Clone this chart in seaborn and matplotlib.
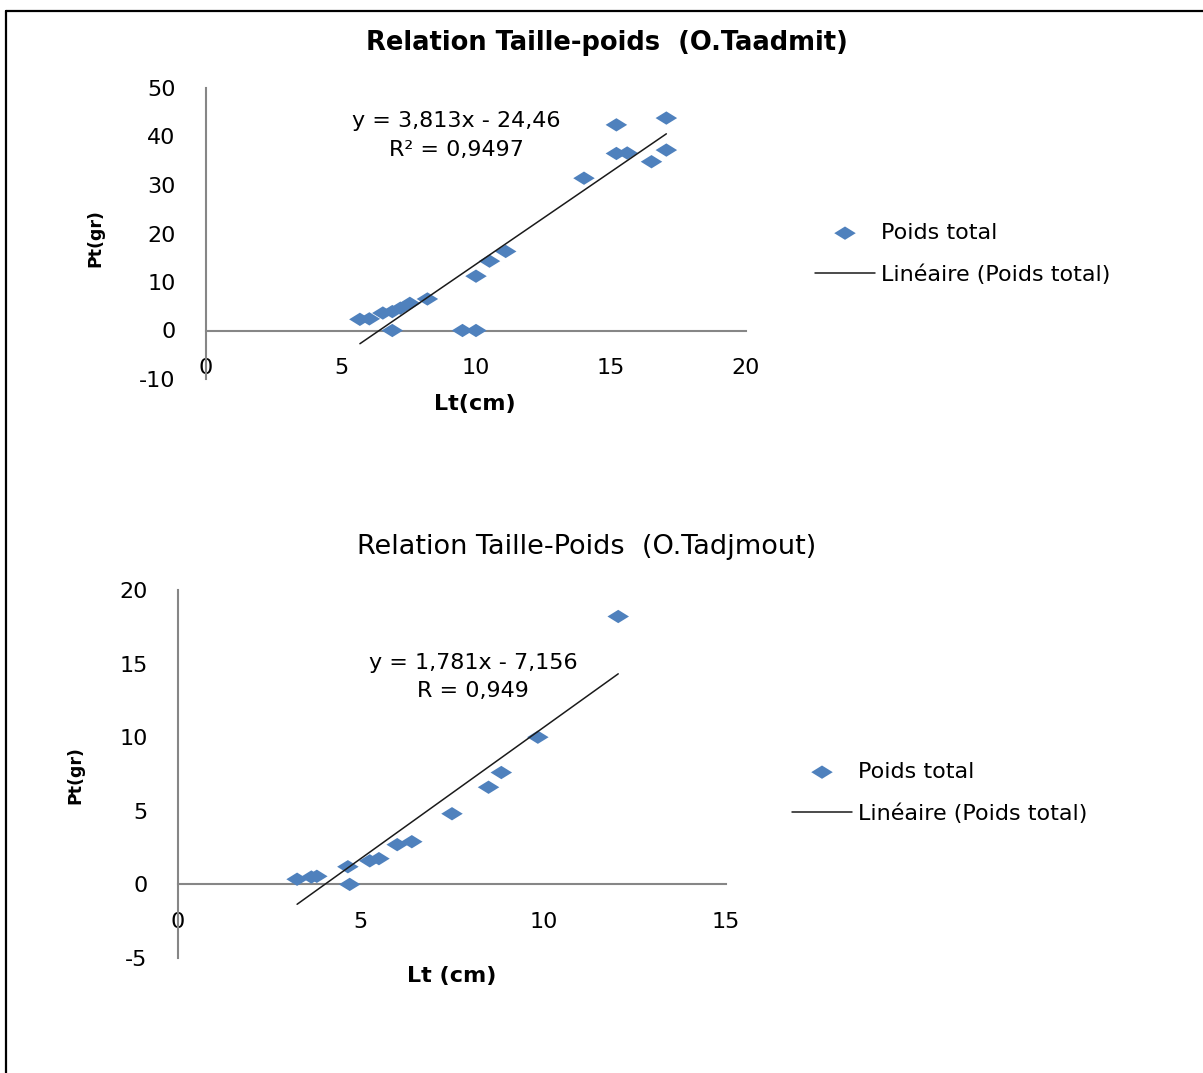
import matplotlib
matplotlib.use("Agg")
import matplotlib.pyplot as plt
from matplotlib.lines import Line2D
import seaborn as sns
import pandas as pd
import numpy as np

# ---- data: O.Taadmit ----
lt1 = [5.7, 6.05, 6.55, 6.9, 7.2, 7.55, 8.2, 6.9, 9.5, 10.0, 10.0, 10.5, 11.1,
       14.0, 15.2, 15.2, 15.6, 16.5, 17.05, 17.05]
pt1 = [2.3, 2.4, 3.6, 3.9, 4.6, 5.6, 6.5, 0.0, 0.0, 0.0, 11.2, 14.3, 16.3,
       31.4, 42.4, 36.5, 36.6, 34.8, 43.8, 37.2]
slope1, intercept1 = 3.813, -24.46
eq1 = ["y = 3,813x - 24,46", "R² = 0,9497"]
title1 = "Relation Taille-poids  (O.Taadmit)"
xticks1 = [0, 5, 10, 15, 20]
yticks1 = [-10, 0, 10, 20, 30, 40, 50]

# ---- data: O.Tadjmout ----
lt2 = [3.26, 3.65, 3.8, 4.7, 4.65, 5.25, 5.5, 6.0, 6.4, 7.5, 8.5, 8.85, 9.85, 12.05]
pt2 = [0.35, 0.5, 0.55, 0.0, 1.2, 1.6, 1.75, 2.7, 2.9, 4.8, 6.6, 7.6, 10.0, 18.2]
slope2, intercept2 = 1.781, -7.156
eq2 = ["y = 1,781x - 7,156", "R = 0,949"]
title2 = "Relation Taille-Poids  (O.Tadjmout)"
xticks2 = [0, 5, 10, 15]
yticks2 = [-5, 0, 5, 10, 15, 20]

series_label = "Poids total"
trend_label = "Linéaire (Poids total)"

sns.set_theme(style="white")
plt.rcParams['font.family'] = ['DejaVu Sans']
plt.rcParams['axes.unicode_minus'] = False
plt.rcParams['text.color'] = 'black'
plt.rcParams['axes.labelcolor'] = 'black'

W, H = 1203, 1073
fig = plt.figure(figsize=(W / 100, H / 100), dpi=100)
fig.patch.set_facecolor("white")

blue = "#4F81BD"
axis_gray = "#868686"
diamond = [(-1, 0), (0, 0.62), (1, 0), (0, -0.62), (-1, 0)]
FS = 16


def px_ax(l, r, t, b):
    return [l / W, 1 - b / H, (r - l) / W, (b - t) / H]


def make_chart(rect, lt, pt, slope, intercept, xlim, ylim, xticks, yticks,
               eq, eq_pos, xlabel, xlabel_pos, ylabel_pos, legend_pos):
    ax = fig.add_axes(rect)
    ax.set_facecolor("none")
    df = pd.DataFrame({"Lt": lt, "Pt": pt})
    sns.scatterplot(data=df, x="Lt", y="Pt", ax=ax, marker=diamond, s=240,
                    color=blue, edgecolor="none", linewidth=0,
                    label=series_label, legend=False, zorder=3)
    xs = np.array([min(lt), max(lt)])
    trend = pd.DataFrame({"Lt": xs, "Pt": slope * xs + intercept})
    sns.lineplot(data=trend, x="Lt", y="Pt", ax=ax, color="#1a1a1a",
                 linewidth=1.1, label=trend_label, legend=False, zorder=4)
    ax.set_xlim(*xlim)
    ax.set_ylim(*ylim)
    ax.set_xticks(xticks)
    ax.set_yticks(yticks)
    ax.tick_params(axis="both", length=0, labelsize=FS, colors="black")
    ax.tick_params(axis="x", pad=20)
    ax.tick_params(axis="y", pad=22)
    for s in ("top", "right"):
        ax.spines[s].set_visible(False)
    ax.spines["left"].set_color(axis_gray)
    ax.spines["left"].set_linewidth(1.5)
    ax.spines["bottom"].set_position(("data", 0))
    ax.spines["bottom"].set_color(axis_gray)
    ax.spines["bottom"].set_linewidth(1.5)
    ax.grid(False)
    ax.set_xlabel(xlabel, fontsize=16, fontweight="bold")
    ax.set_ylabel("Pt(gr)", fontsize=12.5, fontweight="bold")
    ax.xaxis.label.set_va("center")
    ax.yaxis.label.set_va("center")
    ax.xaxis.set_label_coords(*xlabel_pos)
    ax.yaxis.set_label_coords(*ylabel_pos)
    ax.text(eq_pos[0], eq_pos[1], eq[0], transform=ax.transAxes,
            ha="center", va="center", fontsize=FS, color="black")
    ax.text(eq_pos[0], eq_pos[2], eq[1], transform=ax.transAxes,
            ha="center", va="center", fontsize=FS, color="black")
    h, lab = ax.get_legend_handles_labels()
    ax.legend(h, lab, loc="upper left", bbox_to_anchor=legend_pos,
              bbox_transform=fig.transFigure, frameon=False,
              fontsize=FS, handlelength=2.7, handletextpad=0.27,
              labelspacing=0.95, borderpad=0, borderaxespad=0)
    return ax


# chart 1 : x 0..20 -> px 206..746 ; y -10..50 -> px 379..88
l1, r1, t1, b1 = 206, 746, 88, 379
ax1 = make_chart(px_ax(l1, r1, t1, b1), lt1, pt1, slope1, intercept1,
                 (0, 20), (-10, 50), xticks1, yticks1, eq1,
                 ((456 - l1) / (r1 - l1), (b1 - 121) / (b1 - t1), (b1 - 150) / (b1 - t1)),
                 "Lt(cm)", ((475 - l1) / (r1 - l1), (b1 - 404) / (b1 - t1)),
                 ((95 - l1) / (r1 - l1), (b1 - 238) / (b1 - t1)),
                 (815 / W, 1 - 223 / H))
fig.text(607 / W, 1 - 43 / H, title1, ha="center", va="center",
         fontsize=18.5, fontweight="bold", color="black")

# chart 2 : x 0..15 -> px 178..726 ; y -5..20 -> px 958..590
l2, r2, t2, b2 = 178, 726, 590, 958
ax2 = make_chart(px_ax(l2, r2, t2, b2), lt2, pt2, slope2, intercept2,
                 (0, 15), (-5, 20), xticks2, yticks2, eq2,
                 ((473 - l2) / (r2 - l2), (b2 - 663) / (b2 - t2), (b2 - 691) / (b2 - t2)),
                 "Lt (cm)", ((452 - l2) / (r2 - l2), (b2 - 976) / (b2 - t2)),
                 ((75 - l2) / (r2 - l2), (b2 - 775) / (b2 - t2)),
                 (792 / W, 1 - 762 / H))
fig.text(587 / W, 1 - 547 / H, title2, ha="center", va="center",
         fontsize=19.5, color="black")

# outer frame (left and top edges visible in the crop)
fig.add_artist(Line2D([6 / W, 6 / W], [0, 1 - 11 / H], transform=fig.transFigure,
                      color="black", linewidth=1.6))
fig.add_artist(Line2D([6 / W, 1], [1 - 11 / H, 1 - 11 / H], transform=fig.transFigure,
                      color="black", linewidth=1.6))

fig.savefig("out.png", dpi=100, facecolor="white")
